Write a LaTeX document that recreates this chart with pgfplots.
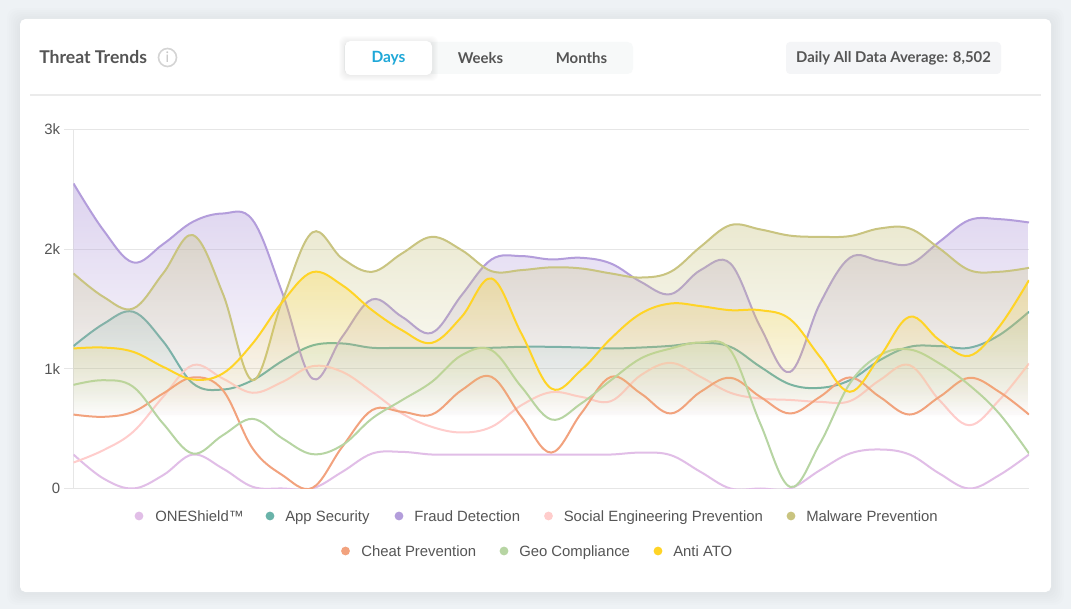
\documentclass[border=0pt]{standalone}
\usepackage{fontspec}
\setmainfont{Liberation Sans}
\newfontfamily\lato{Lato}
\usepackage{pgfplots}
\usepackage{pgfplotstable}
\pgfplotsset{compat=1.18}
\usetikzlibrary{fadings}

\definecolor{cOne}{HTML}{E1BEE7}
\definecolor{cApp}{HTML}{69B3A9}
\definecolor{cFraud}{HTML}{B39DDB}
\definecolor{cSocial}{HTML}{FFCDCC}
\definecolor{cMalware}{HTML}{C9C480}
\definecolor{cCheat}{HTML}{F2A27E}
\definecolor{cGeo}{HTML}{B7D5A3}
\definecolor{cAto}{HTML}{FFD426}
\definecolor{txt}{HTML}{555555}
\definecolor{gridc}{HTML}{E6E6E6}

% every area fades out at 600, whatever the height of its own curve;
% the path's box is fitted to 25bp..75bp of the shading
\newcommand{\areafade}[3]{%
  \pgfdeclareverticalshading{#1}{100bp}{color(0bp)=(black); color(#2bp)=(black); color(75bp)=(white!#3!black); color(100bp)=(white!#3!black)}%
  \pgfdeclarefading{#1}{\pgfuseshading{#1}}}
\areafade{fFraud}{36.75}{45}
\areafade{fMalware}{38.65}{37}
\areafade{fAto}{41.55}{28}
\areafade{fApp}{45.3}{20}
\areafade{fGeo}{49.6}{14}
\areafade{fCheat}{57.15}{8}
\areafade{fSocial}{53.55}{10}

\pgfplotstableread{
x    one  app  fraud social malware cheat geo  ato
0    284  1190 2549  217    1797    618   866  1170
0.5  84   1375 2159  320    1602    599   905  1178
1    0    1477 1889  474    1504    641   850  1142
1.5  111  1230 2042  766    1797    794   543  1017
2    284  878  2229  1031   2117    928   292  911
2.5  167  827  2298  919    1630    822   445  961
3    14   905  2243  800    905     334   582  1212
3.5  0    1067 1630  891    1574    111   418  1560
4    0    1195 919   1022   2140    5     287  1808
4.5  139  1212 1268  975    1922    348   362  1699
5    292  1176 1580  808    1811    655   585  1490
5.5  306  1176 1435  627    1964    641   738  1323
6    284  1176 1301  515    2103    618   891  1217
6.5  284  1176 1616  468    1992    822   1114 1435
7    284  1176 1914  515    1816    933   1156 1755
7.5  284  1184 1942  696    1825    599   850  1295
8    284  1184 1914  805    1848    300   577  836
8.5  284  1178 1928  766    1839    627   710  989
9    284  1170 1880  730    1797    933   905  1254
9.5  300  1178 1727  947    1763    794   1087 1462
10   279  1192 1624  1050   1811    627   1170 1546
10.5 139  1217 1825  933    2020    808   1220 1524
11   0    1184 1880  800    2201    925   1156 1490
11.5 0    1017 1351  752    2165    766   543  1490
12   0    870  975   740    2113    627   14   1415
12.5 153  841  1546  724    2103    766   376  1100
13   292  905  1928  730    2109    928   878  808
13.5 326  1072 1903  905    2173    766   1114 1100
14   284  1184 1875  1031   2173    618   1162 1435
14.5 125  1190 2062  738    2006    766   1045 1240
15   0    1176 2243  529    1825    925   864  1109
15.5 111  1281 2251  738    1811    808   627  1351
16   284  1477 2223  1045   1844    618   293  1741
}\trends

\begin{document}
\begin{tikzpicture}
% page furniture, in reference pixels
\begin{scope}[x=0.75pt,y=-0.75pt]
  \useasboundingbox (0,0) rectangle (1071,609);
  \fill[color={rgb,255:red,238;green,242;blue,245}] (0,0) rectangle (1071,609);
  \foreach \s in {1,3,...,13}
    \fill[black,opacity=0.009,rounded corners=7pt] (20-\s,19-\s+2) rectangle (1051+\s,592+\s);
  \fill[white,rounded corners=4pt] (20,19) rectangle (1051,592);
  \node[anchor=west,font=\lato\bfseries\fontsize{13.2}{15}\selectfont,text=txt,inner sep=0] at (39,57) {Threat Trends};
  \draw[color=black!17,line width=1.2pt] (167.5,57.5) circle (9);
  \node[font=\lato\fontsize{11}{12}\selectfont,text=black!22,inner sep=0] at (167.5,57.5) {i};
  \fill[color={rgb,255:red,247;green,249;blue,249},rounded corners=4pt] (344,42) rectangle (633,74);
  \foreach \s in {1,2,...,6}
    \fill[black,opacity=0.012,rounded corners=5pt] (345-\s,41-\s+1) rectangle (432+\s,75+\s);
  \fill[white,rounded corners=4pt] (345,41) rectangle (432,75);
  \node[font=\lato\bfseries\fontsize{11.6}{13}\selectfont,text={rgb,255:red,31;green,168;blue,216},inner sep=0] at (388.5,58) {Days};
  \node[font=\lato\bfseries\fontsize{11.2}{13}\selectfont,text=txt,inner sep=0] at (480.5,58) {Weeks};
  \node[font=\lato\bfseries\fontsize{11.2}{13}\selectfont,text=txt,inner sep=0] at (581.5,58) {Months};
  \fill[color={rgb,255:red,244;green,245;blue,247},rounded corners=3pt] (786,42) rectangle (1001,74);
  \node[font=\lato\bfseries\fontsize{11.15}{13}\selectfont,text=txt,inner sep=0] at (893.5,58) {Daily All Data Average: 8,502};
  \draw[color=black!8,line width=1.1pt] (30,95) -- (1041,95);
\end{scope}

\begin{axis}[
    at={(55.125pt,-366.375pt)}, anchor=south west,
    scale only axis, width=716.625pt, height=269.25pt,
    xmin=0, xmax=16, ymin=0, ymax=3000,
    axis x line=bottom, axis y line=left,
    axis line style={gridc,-,line width=0.8pt},
    xtick=\empty,
    ytick={0,1000,2000,3000}, yticklabels={0,1k,2k,3k},
    ymajorgrids, grid style={gridc,line width=0.8pt},
    tick style={gridc,line width=0.8pt}, major tick length=7pt,
    tick align=outside,
    y tick label style={font=\fontsize{11.2}{13}\selectfont,text=txt,xshift=0.5pt},
    smooth, tension=0.62,
    every axis plot/.append style={line width=1.5pt},
  ]
  \addplot[cOne,no marks] table[y=one]{\trends};
  \addplot[draw=none,fill=cApp,path fading=fApp,forget plot] table[y=app]{\trends} \closedcycle;
  \addplot[cApp,no marks] table[y=app]{\trends};
  \addplot[draw=none,fill=cFraud,path fading=fFraud,forget plot] table[y=fraud]{\trends} \closedcycle;
  \addplot[cFraud,no marks] table[y=fraud]{\trends};
  \addplot[draw=none,fill=cSocial,path fading=fSocial,forget plot] table[y=social]{\trends} \closedcycle;
  \addplot[cSocial,no marks] table[y=social]{\trends};
  \addplot[draw=none,fill=cMalware,path fading=fMalware,forget plot] table[y=malware]{\trends} \closedcycle;
  \addplot[cMalware,no marks] table[y=malware]{\trends};
  \addplot[draw=none,fill=cCheat,path fading=fCheat,forget plot] table[y=cheat]{\trends} \closedcycle;
  \addplot[cCheat,no marks] table[y=cheat]{\trends};
  \addplot[draw=none,fill=cGeo,path fading=fGeo,forget plot] table[y=geo]{\trends} \closedcycle;
  \addplot[cGeo,no marks] table[y=geo]{\trends};
  \addplot[draw=none,fill=cAto,path fading=fAto,forget plot] table[y=ato]{\trends} \closedcycle;
  \addplot[cAto,no marks] table[y=ato]{\trends};
\end{axis}

% legend: two centred rows of different widths
\begin{scope}[x=0.75pt,y=-0.75pt,lg/.style={anchor=base west,inner sep=0,text=txt,font=\fontsize{11.15}{13}\selectfont}]
  \fill[cOne] (139,516) circle (4.4);     \node[lg] at (155,521) {ONEShield™};
  \fill[cApp] (270,516) circle (4.4);     \node[lg] at (285,521) {App Security};
  \fill[cFraud] (399,516) circle (4.4);   \node[lg] at (414,521) {Fraud Detection};
  \fill[cSocial] (548.5,516) circle (4.4);\node[lg] at (563.5,521) {Social Engineering Prevention};
  \fill[cMalware] (791,516) circle (4.4); \node[lg] at (806,521) {Malware Prevention};
  \fill[cCheat] (345.5,551) circle (4.4); \node[lg] at (361,556) {Cheat Prevention};
  \fill[cGeo] (504,551) circle (4.4);     \node[lg] at (519,556) {Geo Compliance};
  \fill[cAto] (658,551) circle (4.4);     \node[lg] at (673,556) {Anti ATO};
\end{scope}
\end{tikzpicture}
\end{document}
